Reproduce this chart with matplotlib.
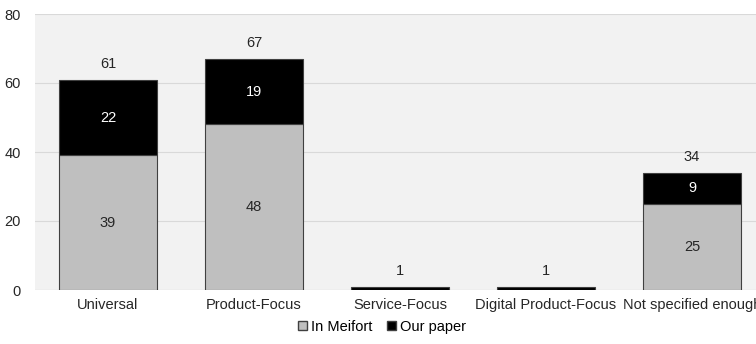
import numpy as np
import matplotlib.pyplot as plt
from matplotlib.patches import Patch

plt.rcParams['font.family'] = ['Liberation Sans', 'DejaVu Sans']

categories = ["Universal", "Product-Focus", "Service-Focus", "Digital Product-Focus", "Not specified enough"]
meifort = [39, 48, 0, 0, 25]
our_paper = [22, 19, 1, 1, 9]
totals = [m + o for m, o in zip(meifort, our_paper)]

fs = 10.5
fig = plt.figure(figsize=(7.56, 3.44), dpi=100)
ax = fig.add_axes([35/756, 54/344, 721/756, 276/344])
ax.set_facecolor("#F2F2F2")

x = np.arange(len(categories))
w = 0.67
ax.bar(x, meifort, w, color="#BFBFBF", edgecolor="#404040", linewidth=0.8, zorder=3)
ax.bar(x, our_paper, w, bottom=meifort, color="black", edgecolor="#404040", linewidth=0.8, zorder=3)

for i in range(len(categories)):
    if meifort[i] > 0:
        ax.text(x[i], meifort[i] / 2, str(meifort[i]), ha="center", va="center", fontsize=fs, color="#262626", zorder=4)
    if our_paper[i] > 2:
        ax.text(x[i], meifort[i] + our_paper[i] / 2, str(our_paper[i]), ha="center", va="center", fontsize=fs, color="white", zorder=4)
    ax.text(x[i], totals[i] + 2.6, str(totals[i]), ha="center", va="bottom", fontsize=fs, color="#262626", zorder=4)

ax.set_ylim(0, 80)
ax.set_xlim(-0.5, -0.5 + 721/146)
ax.set_yticks([0, 20, 40, 60, 80])
ax.set_xticks(x)
ax.set_xticklabels(categories)
ax.yaxis.grid(True, color="#D9D9D9", linewidth=0.8, zorder=0)
ax.tick_params(length=0, labelsize=fs, colors="#262626")
ax.tick_params(axis="y", pad=10)
ax.tick_params(axis="x", pad=6)
for s in ax.spines.values():
    s.set_visible(False)
ax.axhline(0, color="#D9D9D9", linewidth=0.8, zorder=1)

handles = [Patch(facecolor="#BFBFBF", edgecolor="#404040", label="In Meifort"),
           Patch(facecolor="black", edgecolor="#404040", label="Our paper")]
fig.legend(handles=handles, loc="center", bbox_to_anchor=(382/756, 1 - 327/344), ncol=2,
           frameon=False, fontsize=fs, handlelength=0.6, handleheight=0.6,
           handletextpad=0.3, columnspacing=1.0)

fig.savefig("out.png", dpi=100)
